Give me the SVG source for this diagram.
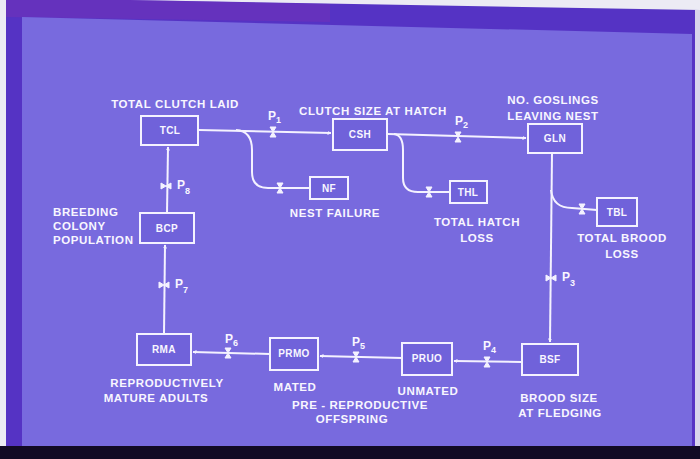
<svg xmlns="http://www.w3.org/2000/svg" width="700" height="459" viewBox="0 0 700 459">
<defs>
<style>
.box{fill:#7062da;stroke:#f4f2ff;stroke-width:2}
.ln{fill:none;stroke:#f4f2ff;stroke-width:2}
.v{fill:#f4f2ff;stroke:#f4f2ff;stroke-width:1}
.t{font-family:"Liberation Sans",Arial,sans-serif;font-weight:bold;font-size:11.5px;letter-spacing:0.6px;fill:#f8f6ff;text-anchor:middle}
.n{font-family:"Liberation Sans",Arial,sans-serif;font-weight:bold;font-size:10px;letter-spacing:0.4px;fill:#f8f6ff;text-anchor:middle}
.p{font-family:"Liberation Sans",Arial,sans-serif;font-weight:bold;font-size:12px;fill:#f8f6ff;text-anchor:start}
.l{text-anchor:start}
</style>
<marker id="ah" viewBox="0 0 8 8" refX="7" refY="4" markerWidth="4" markerHeight="4" orient="auto" markerUnits="userSpaceOnUse">
<path d="M0,0 L8,4 L0,8 z" fill="#f4f2ff"/>
</marker>
<g id="vh"><polygon points="-3,-5 3,-5 -3,5 3,5" class="v"/></g>
<g id="vv"><polygon points="-5,-3 -5,3 5,-3 5,3" class="v"/></g>
</defs>
<rect width="700" height="459" fill="#ecebf4"/>
<polygon points="6,0 130,0 700,10 700,459 6,459" fill="#5533c4"/>
<polygon points="6,0 130,0 330,4 330,22 6,17" fill="#7a30b6" opacity="0.45"/>
<polygon points="22,17 692,34 692,446 22,446" fill="#786ade"/>
<rect x="0" y="446" width="700" height="13" fill="#120a24"/>
<rect x="695" y="10" width="5" height="436" fill="#d8d4ec"/>

<g id="connectors">
<path class="ln" d="M199,130 L331,133" marker-end="url(#ah)"/>
<path class="ln" d="M236,130 Q252,131 252,150 L252,172 Q252,188 268,188 L310,188"/>
<path class="ln" d="M388,134 L526,138" marker-end="url(#ah)"/>
<path class="ln" d="M394,134 Q403,135 403,150 L403,178 Q403,192 418,192 L450,192"/>
<path class="ln" d="M552,153 L550,342" marker-end="url(#ah)"/>
<path class="ln" d="M551,190 Q553,208 572,208 L597,210"/>
<path class="ln" d="M522,362 L454,361" marker-end="url(#ah)"/>
<path class="ln" d="M402,358 L320,356" marker-end="url(#ah)"/>
<path class="ln" d="M270,354 L193,352" marker-end="url(#ah)"/>
<path class="ln" d="M164,334 L165,245" marker-end="url(#ah)"/>
<path class="ln" d="M167,213 L168,147" marker-end="url(#ah)"/>
<use href="#vh" x="273" y="132"/>
<use href="#vh" x="280" y="188"/>
<use href="#vh" x="458" y="137"/>
<use href="#vh" x="429" y="192"/>
<use href="#vv" x="551" y="278"/>
<use href="#vh" x="582" y="209"/>
<use href="#vh" x="487" y="362"/>
<use href="#vh" x="356" y="357"/>
<use href="#vh" x="228" y="353"/>
<use href="#vv" x="164" y="285"/>
<use href="#vv" x="166" y="186"/>
<text class="p" x="268" y="120">P<tspan font-size="9" dy="3">1</tspan></text>
<text class="p" x="455" y="125">P<tspan font-size="9" dy="3">2</tspan></text>
<text class="p" x="562" y="281">P<tspan font-size="9" dy="5">3</tspan></text>
<text class="p" x="483" y="350">P<tspan font-size="9" dy="3">4</tspan></text>
<text class="p" x="352" y="346">P<tspan font-size="9" dy="3">5</tspan></text>
<text class="p" x="225" y="343">P<tspan font-size="9" dy="3">6</tspan></text>
<text class="p" x="175" y="288">P<tspan font-size="9" dy="5">7</tspan></text>
<text class="p" x="177" y="189">P<tspan font-size="9" dy="5">8</tspan></text>
</g>

<g id="TCL"><rect class="box" x="141" y="116" width="57" height="29"/><text class="n" x="170" y="134">TCL</text><text class="t" x="175" y="108">TOTAL CLUTCH LAID</text></g>
<g id="CSH"><rect class="box" x="333" y="119" width="54" height="31"/><text class="n" x="360" y="138">CSH</text><text class="t" x="373" y="115">CLUTCH SIZE AT HATCH</text></g>
<g id="GLN"><rect class="box" x="528" y="124" width="54" height="29"/><text class="n" x="555" y="142">GLN</text><text class="t" x="553" y="104">NO. GOSLINGS</text><text class="t" x="553" y="120">LEAVING NEST</text></g>
<g id="NF"><rect class="box" x="310" y="177" width="38" height="22"/><text class="n" x="329" y="192">NF</text><text class="t" x="335" y="217">NEST FAILURE</text></g>
<g id="THL"><rect class="box" x="450" y="181" width="37" height="22"/><text class="n" x="468" y="196">THL</text><text class="t" x="477" y="226">TOTAL HATCH</text><text class="t" x="477" y="242">LOSS</text></g>
<g id="TBL"><rect class="box" x="597" y="198" width="40" height="28"/><text class="n" x="617" y="216">TBL</text><text class="t" x="622" y="242">TOTAL BROOD</text><text class="t" x="622" y="258">LOSS</text></g>
<g id="BCP"><rect class="box" x="140" y="213" width="54" height="30"/><text class="n" x="167" y="232">BCP</text><text class="t l" x="53" y="216">BREEDING</text><text class="t l" x="53" y="230">COLONY</text><text class="t l" x="53" y="244">POPULATION</text></g>
<g id="RMA"><rect class="box" x="137" y="334" width="54" height="31"/><text class="n" x="164" y="353">RMA</text><text class="t" x="167" y="387">REPRODUCTIVELY</text><text class="t" x="156" y="402">MATURE ADULTS</text></g>
<g id="PRMO"><rect class="box" x="270" y="338" width="48" height="32"/><text class="n" x="294" y="357">PRMO</text><text class="t" x="295" y="391">MATED</text></g>
<g id="PRUO"><rect class="box" x="402" y="343" width="50" height="32"/><text class="n" x="427" y="362">PRUO</text><text class="t" x="428" y="395">UNMATED</text></g>
<g id="BSF"><rect class="box" x="522" y="344" width="56" height="31"/><text class="n" x="550" y="363">BSF</text><text class="t" x="559" y="402">BROOD SIZE</text><text class="t" x="560" y="417">AT FLEDGING</text></g>
<g id="PRO"><text class="t" x="360" y="409">PRE - REPRODUCTIVE</text><text class="t" x="352" y="423">OFFSPRING</text></g>
</svg>
